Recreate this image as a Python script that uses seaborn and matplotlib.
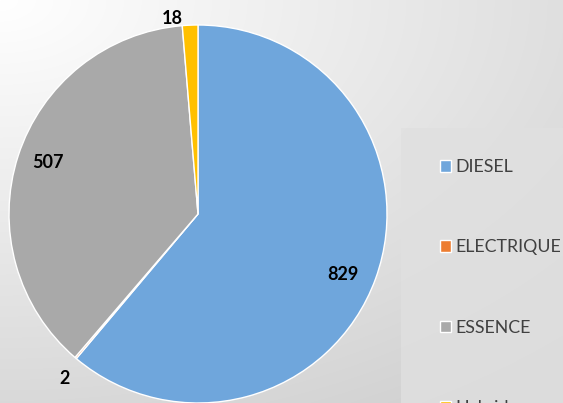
import numpy as np
import matplotlib
matplotlib.use("Agg")
import matplotlib.pyplot as plt
from matplotlib.patches import Rectangle
import seaborn as sns

categories = ["DIESEL", "ELECTRIQUE", "ESSENCE", "Hybride"]
values = [829, 2, 507, 18]
colors = ["#6FA6DC", "#ED7D31", "#A9A9A9", "#FFC000"]

sns.set_theme(style="white")
plt.rcParams['font.family'] = ['Lato', 'DejaVu Sans']

W, H = 563, 403
fig = plt.figure(figsize=(W / 100, H / 100), dpi=100)

# background gradient
bg = fig.add_axes([0, 0, 1, 1], zorder=0)
yy, xx = np.mgrid[0:H, 0:W]
d = np.sqrt((xx / 720.0) ** 2 + (yy / 430.0) ** 2)
g = 1.0 - 0.16 * np.clip(d, 0, 1.2)
bg.imshow(np.dstack([g, g, g]), extent=[0, W, H, 0], aspect="auto")
bg.add_patch(Rectangle((401, 128), W - 401, H - 128, facecolor="#E0E0E0",
                       edgecolor="none", alpha=0.8))
bg.set_xlim(0, W)
bg.set_ylim(H, 0)
bg.set_axis_off()

# pie: centre (198,214) radius 189 px
cx, cy, r = 198, 214, 189
ax = fig.add_axes([(cx - r) / W, (H - cy - r) / H, 2 * r / W, 2 * r / H], zorder=1)
wedges, _ = ax.pie(values, colors=colors, startangle=90, counterclock=False,
                   wedgeprops=dict(edgecolor="white", linewidth=1.0))
ax.set_aspect("equal")
ax.set_xlim(-1, 1)
ax.set_ylim(-1, 1)

# data labels (pixel positions relative to figure)
label_pos = [(343, 275), (65, 378), (48, 162), (172, 19)]
for v, (px, py) in zip(values, label_pos):
    fig.text(px / W, 1 - py / H, str(v), ha="center", va="center",
             fontsize=13, fontweight="bold", color="black", zorder=5)

# legend
fs = 12.8
leg = fig.legend(wedges, categories, loc="upper left",
                 bbox_to_anchor=(440 / W, 1 - 159 / H), frameon=False,
                 fontsize=fs, labelspacing=3.62, handlelength=0.62,
                 handleheight=0.62, handletextpad=0.25, borderpad=0,
                 borderaxespad=0)
for t in leg.get_texts():
    t.set_color("#404040")

fig.savefig("out.png", dpi=100)
